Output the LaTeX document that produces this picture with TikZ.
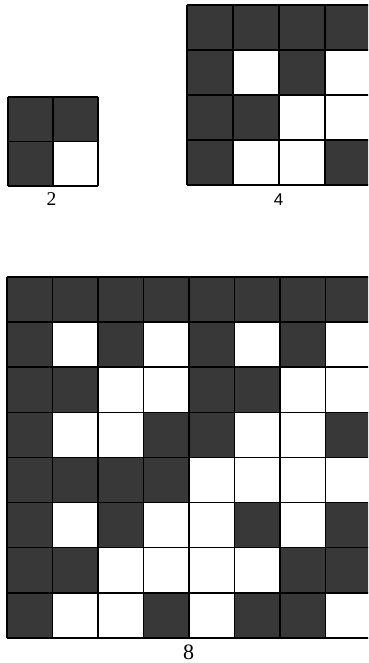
\documentclass[tikz,border=0pt]{standalone}
\usepackage{fontspec}
\setmainfont{Liberation Serif}
\newfontfamily\lsans{Liberation Sans}
\begin{document}
\begin{tikzpicture}[x=1pt,y=-1pt,
  darkcell/.style={fill=black!78},
  gridline/.style={draw=black,line width=1.6pt},
  lbl/.style={inner sep=0pt}]
\useasboundingbox (0,0) rectangle (368,663);
\clip (0,0) rectangle (368,663);
% #1 x0, #2 y0, #3 w, #4 h, #5 n, #6 rows
\newcommand{\hgrid}[6]{%
  \foreach \row [count=\r from 0] in {#6} {
    \foreach \v [count=\c from 0] in \row {
      \ifnum\v=1
        \fill[darkcell] ({#1+\c*#3},{#2+\r*#4}) rectangle ++(#3,#4);
      \fi
    }
  }
  \foreach \k in {0,...,#5} {
    \draw[gridline] ({#1+\k*#3},#2) -- ++(0,{#5*#4});
    \draw[gridline] (#1,{#2+\k*#4}) -- ++({#5*#3},0);
  }
}
\hgrid{8}{97}{45}{44.5}{2}{{1,1},{1,0}}
\hgrid{187}{5}{46}{45}{4}{{1,1,1,1},{1,0,1,0},{1,1,0,0},{1,0,0,1}}
\hgrid{7}{277}{45.5}{45.1}{8}{{1,1,1,1,1,1,1,1},{1,0,1,0,1,0,1,0},{1,1,0,0,1,1,0,0},{1,0,0,1,1,0,0,1},{1,1,1,1,0,0,0,0},{1,0,1,0,0,1,0,1},{1,1,0,0,0,0,1,1},{1,0,0,1,0,1,1,0}}
\node[lbl,font=\fontsize{19.5}{20}\selectfont] (l2) at (51.5,199.5) {2};
\node[lbl,font=\lsans\fontsize{17}{18}\selectfont] (l4) at (278.5,200) {4};
\node[lbl,font=\fontsize{22}{22}\selectfont] (l8) at (188.5,652.5) {8};
\end{tikzpicture}
\end{document}
